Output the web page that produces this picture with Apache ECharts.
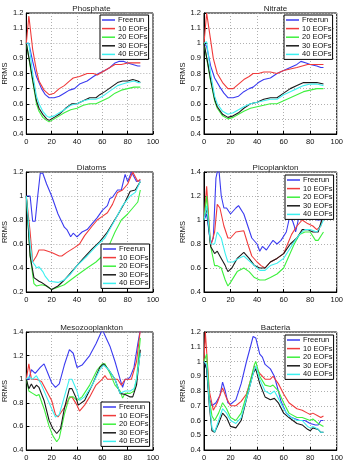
<!DOCTYPE html>
<html>
<head>
<meta charset="utf-8">
<script src="https://cdn.jsdelivr.net/npm/echarts@6/dist/echarts.min.js"></script>
<style>
  html, body { margin: 0; padding: 0; background: #fff; }
  #chart { width: 346px; height: 462px; }
</style>
</head>
<body>
<div id="chart"></div>
<script>
const seriesNames = ['Freerun', '10 EOFs', '20 EOFs', '30 EOFs', '40 EOFs']
const seriesColors = ['#3b3bf0', '#f03b3b', '#3ef03e', '#1a1a1a', '#3ef0f0']
const xTicks = [0, 20, 40, 60, 80, 100]

// Phosphate
const phosFree = [[0,1.0],[2,1.0],[5,0.88],[8,0.78],[12,0.7],[15,0.66],[18,0.64],[22,0.64],[26,0.65],[30,0.67],[34,0.69],[38,0.7],[42,0.73],[48,0.75],[53,0.78],[57,0.8],[62,0.82],[66,0.84],[70,0.87],[73,0.88],[77,0.88],[80,0.87],[84,0.86],[88,0.85],[90,0.85]]
const phos10 = [[0,1.0],[2,1.18],[5,0.96],[8,0.82],[10,0.75],[14,0.69],[18,0.66],[22,0.67],[26,0.7],[30,0.72],[34,0.75],[37,0.77],[42,0.78],[48,0.8],[53,0.8],[56,0.79],[62,0.82],[66,0.84],[70,0.86],[75,0.86],[80,0.87],[85,0.87],[90,0.87]]
const phos20 = [[0,1.0],[3,0.85],[5,0.75],[8,0.6],[10,0.55],[13,0.51],[16,0.49],[18,0.48],[22,0.5],[26,0.52],[30,0.54],[35,0.56],[40,0.57],[45,0.59],[50,0.6],[55,0.6],[60,0.62],[65,0.64],[70,0.67],[75,0.69],[80,0.7],[85,0.71],[90,0.71]]
const phos30 = [[0,1.0],[3,0.86],[5,0.76],[8,0.62],[10,0.57],[13,0.53],[16,0.5],[18,0.49],[22,0.51],[26,0.53],[31,0.57],[36,0.6],[40,0.6],[45,0.62],[50,0.64],[55,0.64],[58,0.66],[62,0.68],[67,0.71],[72,0.74],[76,0.75],[80,0.75],[84,0.76],[88,0.75],[90,0.74]]
const phos40 = [[0,1.0],[2,1.0],[5,0.8],[8,0.65],[10,0.6],[13,0.55],[16,0.52],[18,0.51],[22,0.52],[26,0.54],[30,0.56],[35,0.59],[40,0.6],[45,0.62],[50,0.63],[55,0.63],[58,0.64],[62,0.66],[67,0.69],[72,0.72],[76,0.73],[80,0.74],[85,0.75],[88,0.74],[90,0.74]]

// Nitrate
const nitFree = [[0,1.0],[2,0.98],[5,0.85],[8,0.77],[12,0.71],[15,0.67],[18,0.64],[22,0.64],[26,0.65],[30,0.68],[34,0.7],[37,0.71],[41,0.74],[45,0.76],[50,0.77],[55,0.8],[60,0.82],[65,0.84],[70,0.86],[73,0.88],[77,0.87],[80,0.86],[85,0.85],[88,0.84],[90,0.84]]
const nit10 = [[0,1.0],[2,1.2],[4,1.08],[7,0.9],[10,0.8],[14,0.74],[18,0.7],[22,0.7],[26,0.73],[30,0.76],[34,0.78],[37,0.8],[41,0.8],[45,0.81],[50,0.81],[55,0.8],[60,0.82],[65,0.83],[70,0.84],[74,0.85],[78,0.86],[84,0.86],[90,0.86]]
const nit20 = [[0,1.0],[3,0.85],[5,0.75],[8,0.62],[10,0.57],[14,0.52],[18,0.5],[22,0.51],[26,0.53],[30,0.55],[35,0.57],[40,0.58],[45,0.59],[50,0.6],[55,0.6],[60,0.62],[65,0.64],[70,0.66],[75,0.68],[80,0.69],[85,0.7],[90,0.7]]
const nit30 = [[0,1.0],[3,0.86],[5,0.76],[8,0.63],[10,0.58],[14,0.53],[18,0.51],[22,0.52],[26,0.54],[30,0.57],[35,0.6],[40,0.61],[45,0.63],[50,0.64],[55,0.64],[60,0.67],[65,0.7],[70,0.72],[75,0.74],[80,0.74],[85,0.74],[90,0.73]]
const nit40 = [[0,1.0],[2,1.01],[5,0.8],[8,0.65],[10,0.6],[14,0.55],[18,0.53],[22,0.54],[26,0.56],[30,0.58],[35,0.6],[40,0.61],[45,0.62],[50,0.63],[55,0.63],[60,0.66],[65,0.68],[70,0.7],[75,0.72],[80,0.73],[85,0.73],[90,0.72]]

// Diatoms
const diaFree = [[0,1.0],[3,1.0],[5,0.79],[7,0.79],[9,1.0],[11,1.19],[13,1.19],[16,1.1],[20,1.0],[25,0.85],[30,0.74],[32,0.72],[35,0.66],[37,0.69],[40,0.66],[44,0.7],[48,0.72],[52,0.77],[56,0.82],[60,0.88],[64,0.92],[66,0.98],[68,0.99],[72,1.05],[75,1.05],[78,1.18],[80,1.12],[83,1.2],[87,1.12],[90,1.13]]
const dia10 = [[0,1.0],[3,0.7],[5,0.45],[8,0.5],[10,0.55],[14,0.55],[20,0.53],[26,0.5],[28,0.5],[32,0.53],[38,0.57],[42,0.6],[46,0.67],[52,0.75],[56,0.8],[60,0.83],[64,0.86],[68,0.93],[72,1.03],[76,1.05],[80,1.1],[84,1.2],[88,1.12],[90,1.14]]
const dia20 = [[0,1.0],[3,0.5],[6,0.27],[8,0.25],[12,0.26],[16,0.25],[20,0.22],[25,0.24],[30,0.26],[35,0.3],[40,0.34],[48,0.4],[55,0.45],[60,0.5],[65,0.58],[70,0.7],[75,0.8],[80,0.85],[84,0.9],[88,0.95],[90,1.05]]
const dia30 = [[0,1.0],[3,0.5],[6,0.32],[10,0.29],[12,0.28],[16,0.25],[20,0.22],[25,0.25],[30,0.3],[35,0.36],[40,0.42],[45,0.48],[52,0.56],[58,0.62],[64,0.7],[72,0.84],[78,0.95],[82,1.04],[86,1.05],[90,1.12]]
const dia40 = [[0,1.0],[3,0.6],[5,0.45],[7,0.42],[8,0.4],[10,0.41],[13,0.37],[15,0.33],[18,0.29],[25,0.28],[30,0.3],[35,0.35],[40,0.42],[48,0.5],[55,0.58],[62,0.65],[70,0.8],[76,0.92],[82,1.0],[86,1.03],[90,1.12]]

// Picoplankton
const picoFree = [[0,1.0],[2,1.05],[5,0.8],[7,0.85],[9,1.35],[11,1.45],[13,1.2],[15,1.1],[17,1.1],[20,1.05],[24,1.1],[26,1.12],[30,1.05],[33,0.95],[36,0.85],[40,0.8],[42,0.74],[44,0.78],[47,0.75],[50,0.8],[52,0.83],[55,0.8],[58,0.83],[62,0.9],[65,1.05],[68,0.95],[69,0.9],[72,1.05],[76,1.1],[80,1.05],[85,1.0],[88,1.0],[90,1.05]]
const pico10 = [[0,1.0],[2,1.28],[5,0.78],[8,0.9],[10,1.13],[12,1.1],[15,0.95],[18,0.85],[20,0.85],[24,0.9],[30,0.91],[33,0.8],[36,0.7],[40,0.65],[43,0.62],[46,0.6],[50,0.65],[55,0.68],[60,0.72],[63,0.8],[66,0.88],[70,0.95],[74,1.0],[78,0.97],[82,0.95],[85,0.92],[88,0.95],[90,1.05]]
const pico20 = [[0,1.0],[2,1.2],[5,0.78],[8,0.62],[10,0.62],[13,0.6],[16,0.5],[18,0.45],[20,0.48],[25,0.57],[30,0.6],[34,0.57],[38,0.52],[42,0.5],[46,0.5],[50,0.52],[55,0.55],[60,0.6],[64,0.7],[68,0.8],[72,0.88],[76,0.9],[80,0.9],[84,0.83],[86,0.83],[90,0.9]]
const pico30 = [[0,1.0],[2,1.1],[5,0.78],[8,0.72],[10,0.74],[13,0.68],[16,0.62],[18,0.57],[21,0.6],[25,0.68],[30,0.73],[34,0.68],[38,0.62],[42,0.6],[46,0.6],[50,0.65],[55,0.68],[60,0.72],[65,0.8],[70,0.85],[74,0.92],[78,0.92],[82,0.9],[86,0.9],[90,1.05]]
const pico40 = [[0,1.0],[2,1.12],[5,0.8],[8,0.8],[10,0.9],[13,0.85],[16,0.72],[18,0.65],[22,0.65],[26,0.68],[30,0.7],[34,0.66],[38,0.62],[42,0.58],[46,0.58],[50,0.62],[55,0.64],[60,0.68],[64,0.75],[68,0.82],[72,0.88],[76,0.92],[80,0.92],[85,0.9],[88,0.95],[90,1.0]]

// Mesozooplankton
const mesoFree = [[0,1.0],[2,1.0],[4,1.08],[7,1.05],[11,1.1],[14,1.13],[17,1.05],[20,0.97],[23,0.93],[26,0.96],[30,1.12],[34,1.25],[37,1.22],[40,1.1],[44,1.12],[50,1.2],[55,1.3],[60,1.42],[63,1.35],[66,1.28],[70,1.15],[74,1.0],[76,0.93],[78,1.0],[80,1.0],[82,1.02],[85,1.1],[88,1.3],[90,1.42]]
const meso10 = [[0,1.0],[2,1.13],[4,1.0],[8,1.0],[12,0.98],[16,0.9],[20,0.82],[23,0.7],[25,0.68],[30,0.76],[34,0.84],[36,0.85],[40,0.78],[42,0.73],[46,0.78],[50,0.85],[55,0.95],[60,1.0],[62,1.03],[64,1.0],[68,1.0],[72,1.0],[75,0.95],[78,1.0],[80,1.0],[83,1.0],[87,1.15],[90,1.42]]
const meso20 = [[0,1.0],[2,0.9],[5,0.88],[8,0.86],[10,0.87],[14,0.75],[18,0.6],[21,0.52],[24,0.47],[26,0.5],[30,0.7],[34,0.85],[37,0.85],[40,0.82],[44,0.85],[50,0.95],[56,1.08],[60,1.13],[62,1.13],[66,1.05],[70,0.95],[74,0.9],[76,0.84],[78,0.88],[82,0.88],[85,0.9],[87,1.0],[90,1.35]]
const meso30 = [[0,1.0],[2,0.92],[4,0.96],[6,0.92],[8,0.95],[10,0.93],[14,0.82],[18,0.65],[21,0.58],[24,0.54],[27,0.58],[30,0.75],[34,0.92],[36,0.92],[39,0.85],[41,0.78],[46,0.82],[52,0.95],[58,1.1],[61,1.13],[65,1.08],[70,1.0],[74,0.88],[78,0.87],[82,0.85],[84,0.85],[87,0.95],[90,1.25]]
const meso40 = [[0,1.0],[2,1.02],[5,1.0],[8,1.03],[12,0.95],[16,0.85],[20,0.75],[23,0.68],[26,0.7],[30,0.85],[34,1.0],[36,1.0],[40,0.9],[42,0.82],[46,0.85],[52,0.95],[58,1.08],[61,1.12],[65,1.08],[70,1.0],[74,0.88],[78,0.9],[82,0.9],[85,0.92],[87,1.0],[90,1.22]]

// Bacteria
const bacFree = [[0,1.0],[2,0.95],[4,0.75],[6,0.7],[9,0.72],[12,0.77],[14,0.86],[16,0.8],[18,0.72],[20,0.71],[24,0.74],[28,0.85],[32,1.0],[35,1.1],[37,1.17],[39,1.16],[42,1.05],[44,1.03],[46,0.98],[50,0.95],[53,0.9],[56,0.8],[58,0.73],[62,0.65],[66,0.62],[72,0.6],[76,0.6],[80,0.58],[84,0.57],[86,0.57],[88,0.6],[90,0.6]]
const bac10 = [[0,1.0],[1,1.2],[2,1.2],[4,0.8],[7,0.67],[10,0.72],[14,0.82],[17,0.75],[20,0.7],[24,0.7],[28,0.73],[32,0.78],[36,0.9],[38,0.97],[42,0.92],[46,0.88],[50,0.88],[52,0.9],[56,0.85],[60,0.78],[64,0.72],[70,0.68],[74,0.67],[78,0.65],[80,0.64],[82,0.65],[86,0.63],[88,0.62],[90,0.63]]
const bac20 = [[0,1.0],[2,1.05],[4,0.75],[6,0.63],[8,0.6],[11,0.65],[14,0.72],[17,0.68],[20,0.62],[24,0.6],[28,0.65],[33,0.8],[38,0.98],[39,1.0],[42,0.9],[46,0.84],[50,0.83],[52,0.84],[56,0.8],[60,0.72],[64,0.65],[70,0.62],[74,0.62],[80,0.6],[82,0.61],[86,0.58],[88,0.57],[90,0.56]]
const bac30 = [[0,1.0],[2,0.95],[4,0.7],[6,0.53],[8,0.52],[11,0.58],[14,0.65],[17,0.62],[20,0.56],[24,0.55],[28,0.6],[33,0.78],[37,0.92],[39,0.95],[42,0.85],[46,0.76],[50,0.74],[53,0.75],[56,0.72],[60,0.65],[64,0.62],[70,0.58],[74,0.57],[78,0.54],[80,0.53],[82,0.55],[86,0.54],[88,0.52],[90,0.52]]
const bac40 = [[0,1.0],[2,0.98],[4,0.72],[6,0.55],[8,0.52],[11,0.6],[14,0.68],[17,0.65],[20,0.6],[24,0.58],[28,0.62],[33,0.78],[38,0.95],[39,0.97],[42,0.88],[46,0.8],[50,0.78],[53,0.8],[56,0.75],[60,0.68],[64,0.63],[70,0.6],[74,0.6],[78,0.56],[80,0.55],[82,0.56],[86,0.54],[88,0.52],[90,0.52]]

const panels = [
  { title: 'Phosphate', ymin: 0.4, ymax: 1.2, yint: 0.1, lines: [phosFree, phos10, phos20, phos30, phos40],
    left: 20, top: 13, height: 121, legLeft: 100, legTop: 15 },
  { title: 'Nitrate', ymin: 0.4, ymax: 1.2, yint: 0.1, lines: [nitFree, nit10, nit20, nit30, nit40],
    left: 204, top: 13, height: 121, legLeft: 284, legTop: 15 },
  { title: 'Diatoms', ymin: 0.2, ymax: 1.2, yint: 0.2, lines: [diaFree, dia10, dia20, dia30, dia40],
    left: 20, top: 172, height: 120, legLeft: 101, legTop: 244 },
  { title: 'Picoplankton', ymin: 0.4, ymax: 1.4, yint: 0.2, lines: [picoFree, pico10, pico20, pico30, pico40],
    left: 204, top: 172, height: 120, legLeft: 285, legTop: 175 },
  { title: 'Mesozooplankton', ymin: 0.4, ymax: 1.4, yint: 0.2, lines: [mesoFree, meso10, meso20, meso30, meso40],
    left: 20, top: 332, height: 120, legLeft: 101, legTop: 402 },
  { title: 'Bacteria', ymin: 0.4, ymax: 1.2, yint: 0.1, lines: [bacFree, bac10, bac20, bac30, bac40],
    left: 204, top: 332, height: 120, legLeft: 285, legTop: 335 }
]

const font = 'Liberation Sans, Arial, sans-serif'
const plotWidth = 133

let grid = [], xAxis = [], yAxis = [], title = [], legend = [], series = []

panels.forEach(function (p, i) {
  grid.push({ left: p.left, top: p.top, width: plotWidth, height: p.height,
    show: true, borderColor: '#000', borderWidth: 1, backgroundColor: '#fff' })
  title.push({ text: p.title, left: p.left + plotWidth / 2, top: p.top - 13, textAlign: 'center',
    textStyle: { fontSize: 8, fontWeight: 'normal', color: '#222', fontFamily: font } })
  xAxis.push({ type: 'value', gridIndex: i, min: 0, max: 100, interval: 20,
    axisLine: { show: true, onZero: false, lineStyle: { color: '#000', width: 1 } },
    axisTick: { show: true, inside: true, length: 3, lineStyle: { color: '#000' } },
    axisLabel: { fontSize: 7.5, color: '#111', margin: 4, fontFamily: font },
    splitLine: { show: true, lineStyle: { color: '#b0b0b0', type: [1, 2], width: 1 } } })
  yAxis.push({ type: 'value', gridIndex: i, min: p.ymin, max: p.ymax, interval: p.yint,
    name: 'RRMS', nameLocation: 'middle', nameGap: 15,
    nameTextStyle: { fontSize: 7.5, color: '#111', fontFamily: font },
    axisLine: { show: true, onZero: false, lineStyle: { color: '#000', width: 1 } },
    axisTick: { show: true, inside: true, length: 3, lineStyle: { color: '#000' } },
    axisLabel: { fontSize: 7.5, color: '#111', margin: 3, fontFamily: font,
      formatter: function (v) { return String(Math.round(v * 10) / 10) } },
    splitLine: { show: true, lineStyle: { color: '#b0b0b0', type: [1, 2], width: 1 } } })
  legend.push({ data: seriesNames, left: p.legLeft, top: p.legTop, orient: 'vertical',
    icon: 'rect', itemWidth: 13, itemHeight: 1.5, itemGap: 0.6, selectedMode: false,
    padding: [1, 1, 1, 2], borderColor: '#000', borderWidth: 1, backgroundColor: '#fff',
    textStyle: { fontSize: 7.5, lineHeight: 7.3, color: '#111', fontFamily: font, padding: [0, 0, 0, -2] } })
  p.lines.forEach(function (d, k) {
    series.push({ name: seriesNames[k], type: 'line', xAxisIndex: i, yAxisIndex: i,
      data: d, symbol: 'none', smooth: false, silent: true, animation: false,
      color: seriesColors[k], lineStyle: { width: 1.1, color: seriesColors[k] } })
  })
})

const option = { animation: false, color: seriesColors, title: title, grid: grid,
  xAxis: xAxis, yAxis: yAxis, legend: legend, series: series }

const myChart = echarts.init(document.getElementById('chart'))
myChart.setOption(option, true)
</script>
</body>
</html>
